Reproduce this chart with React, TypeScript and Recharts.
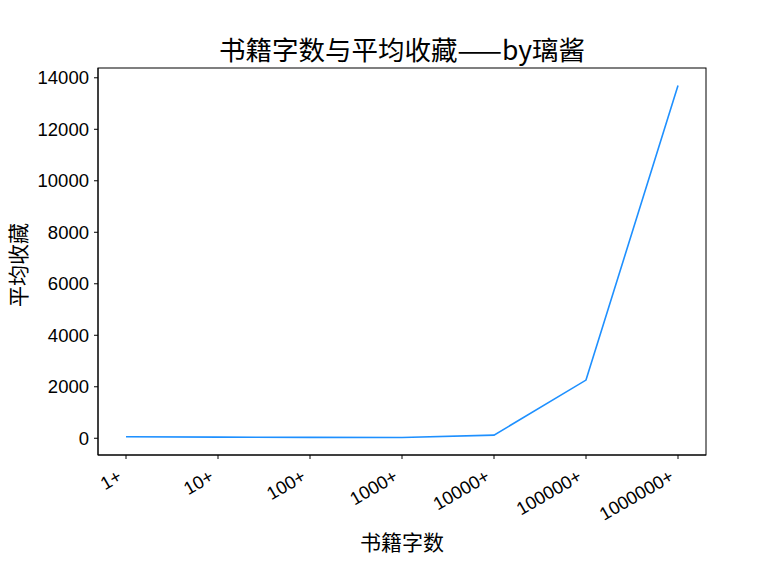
import React from 'react';
import { LineChart, Line, XAxis, YAxis } from 'recharts';

const categories = ['1+', '10+', '100+', '1000+', '10000+', '100000+', '1000000+'];
const avgFavorites = [60, 45, 35, 30, 120, 2260, 13700];
const yTicks = [0, 2000, 4000, 6000, 8000, 10000, 12000, 14000];

const data = categories.map((c, i) => ({ name: c, value: avgFavorites[i] }));

const FONT = '"Noto Sans CJK SC", "Liberation Sans", sans-serif';
const NUMFONT = '"Liberation Sans", Arial, sans-serif';

const W = 784;
const H = 569;
const M = { top: 68, right: 78, bottom: 114, left: 98 };

const XTick = (props: any) => {
  const { x, y, payload } = props;
  const ax = x - 3;
  const ay = y + 19;
  return (
    <text
      x={ax}
      y={ay}
      textAnchor="end"
      fontSize={18.3}
      fontFamily={NUMFONT}
      fill="#000"
      transform={`rotate(-30, ${ax}, ${ay})`}
    >
      {payload.value}
    </text>
  );
};

const YTick = (props: any) => {
  const { x, y, payload } = props;
  return (
    <text x={x - 3} y={y + 6.5} textAnchor="end" fontSize={18.5} fontFamily={NUMFONT} fill="#000">
      {payload.value}
    </text>
  );
};

export default function App() {
  return (
    <div style={{ position: 'absolute', left: 0, top: 0, width: W, height: H, background: '#fff' }}>
      <div style={{ position: 'absolute', left: 0, top: 0 }}>
        <LineChart width={W} height={H} data={data} margin={{ top: M.top, right: M.right, bottom: 0, left: 0 }}>
          <XAxis
            dataKey="name"
            height={M.bottom}
            padding={{ left: 28, right: 28 }}
            tick={<XTick />}
            tickSize={4}
            interval={0}
            axisLine={{ stroke: '#000', strokeWidth: 1 }}
            tickLine={{ stroke: '#000' }}
          />
          <YAxis
            width={M.left}
            domain={[-650, 14380]}
            ticks={yTicks}
            type="number"
            allowDataOverflow
            tick={<YTick />}
            tickSize={4}
            axisLine={{ stroke: '#000', strokeWidth: 1 }}
            tickLine={{ stroke: '#000' }}
          />
          <Line
            type="linear"
            dataKey="value"
            stroke="#1e90ff"
            strokeWidth={1.6}
            dot={false}
            activeDot={false}
            isAnimationActive={false}
          />
        </LineChart>
      </div>
      <svg width={W} height={H} style={{ position: 'absolute', left: 0, top: 0, pointerEvents: 'none' }}>
        <rect
          x={M.left}
          y={M.top}
          width={W - M.left - M.right}
          height={H - M.top - M.bottom}
          fill="none"
          stroke="#000"
          strokeWidth={1}
        />
        <text x={402} y={60} textAnchor="middle" fontSize={26.5} fontFamily={FONT} fill="#000">
          书籍字数与平均收藏——by璃酱
        </text>
        <text x={402} y={550} textAnchor="middle" fontSize={21} fontFamily={FONT} fill="#000">
          书籍字数
        </text>
        <text
          x={26}
          y={265}
          textAnchor="middle"
          fontSize={21}
          fontFamily={FONT}
          fill="#000"
          transform="rotate(-90, 26, 265)"
        >
          平均收藏
        </text>
      </svg>
    </div>
  );
}
